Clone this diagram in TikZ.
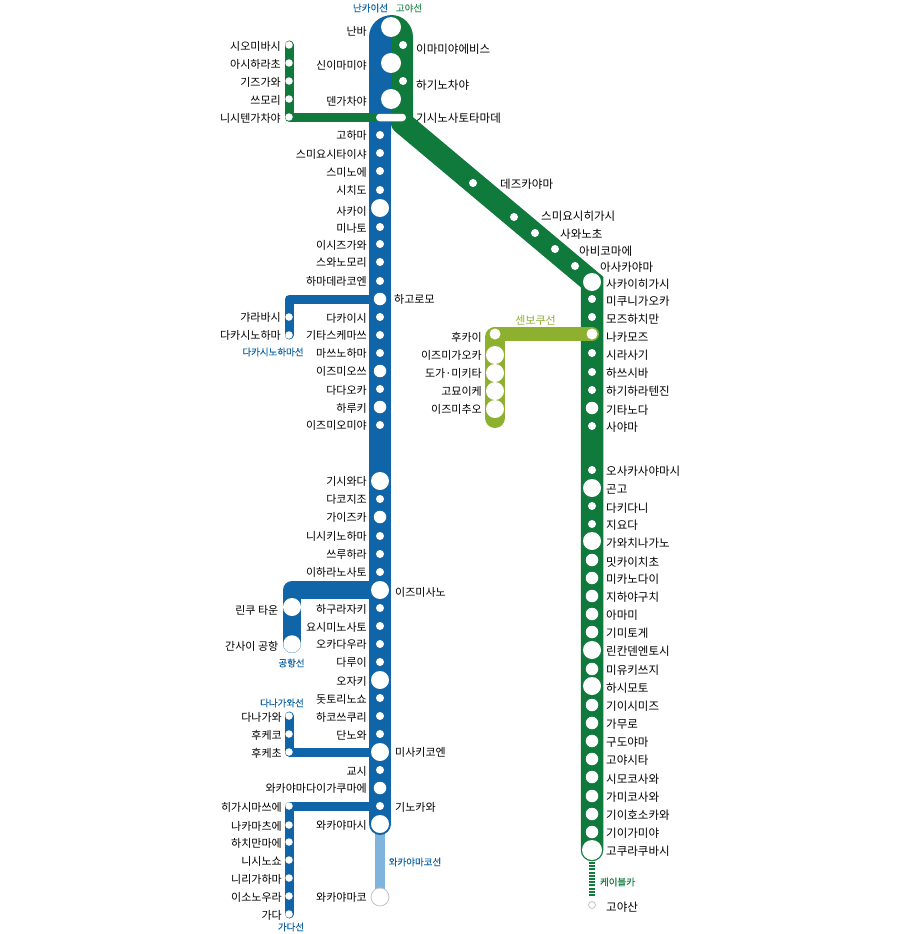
\documentclass[tikz,border=0pt]{standalone}
\usepackage{fontspec}
\setmainfont{Noto Sans CJK KR}
\newfontfamily\namefont[FakeBold=0.25]{Noto Sans CJK KR}
\usetikzlibrary{backgrounds}
\definecolor{nkblue}{HTML}{1065A8}
\definecolor{kygreen}{HTML}{0F7A3C}
\definecolor{skolive}{HTML}{8DB02F}
\definecolor{wklight}{HTML}{7FB5DC}
\definecolor{stnring}{HTML}{C4C4C4}
\tikzstyle{stn}=[circle, fill=white, inner sep=0pt]
\tikzstyle{stnT}=[stn, minimum size=7.5pt]
\tikzstyle{stnS}=[stn, minimum size=8pt]
\tikzstyle{stnM}=[stn, minimum size=12.5pt]
\tikzstyle{stnB}=[stn, minimum size=18pt]
\tikzstyle{stnX}=[stn, minimum size=20pt]
\tikzstyle{lbl}=[inner sep=0pt, yshift=-0.7pt, text=black, font=\fontsize{11}{11}\selectfont]
\tikzstyle{lblE}=[lbl, anchor=east]
\tikzstyle{lblW}=[lbl, anchor=west]
\tikzstyle{lblK}=[lblW, font=\fontsize{11.5}{11.5}\selectfont]
\tikzstyle{linename}=[inner sep=0pt, font=\namefont\fontsize{9.5}{9.5}\selectfont]
\tikzstyle{branch}=[line width=9pt, line cap=round, line join=round]
\begin{document}
\begin{tikzpicture}[x=1pt, y=-1pt]
    \useasboundingbox (0,0) rectangle (900,934);
    \foreach \y/\s/\t in {31/27/난바, 65/63/신이마미야, 101/99/덴가차야} {
        \node[stnX] (nk\s) at (391,\s) {};
        \node[lblE] (nkL\s) at (367,\y) {\t};
    }
    \foreach \y/\ly/\s/\t in {135/135/stnS/고하마, 153/154/stnS/스미요시타이샤, 171/172/stnS/스미노에, 190/190/stnS/시치도,
        208/211/stnB/사카이, 227/228/stnS/미나토, 244/245/stnS/이시즈가와, 262/262/stnS/스와노모리, 281/281/stnS/하마데라코엔,
        317/318/stnS/다카이시, 335/335/stnS/기타스케마쓰, 353/353/stnS/마쓰노하마, 371/371/stnM/이즈미오쓰, 389/390/stnS/다다오카,
        407/408/stnM/하루키, 425/425/stnS/이즈미오미야, 481/481/stnB/기시와다, 499/499/stnS/다코지조, 517/517/stnM/가이즈카,
        536/536/stnS/니시키노하마, 554/554/stnS/쓰루하라, 572/572/stnS/이하라노사토, 608/609/stnS/하구라자키, 626/627/stnS/요시미노사토,
        644/644/stnS/오카다우라, 662/662/stnS/다루이, 680/681/stnB/오자키, 698/699/stnS/돗토리노쇼, 716/717/stnS/하코쓰쿠리,
        734/735/stnS/단노와, 770/771/stnS/교시, 788/788/stnM/와카야마다이가쿠마에, 824/825/stnB/와카야마시} {
        \node[\s] (nk\y) at (380,\y) {};
        \node[lblE] (nkL\y) at (367,\ly) {\t};
    }
    \foreach \y/\ly/\s/\x/\t in {299/299/stnM/394/하고로모, 590/592/stnB/395/이즈미사노, 752/752/stnB/395/미사키코엔, 806/807/stnS/395/기노카와} {
        \node[\s] (nk\y) at (380,\y) {};
        \node[lblW] (nkL\y) at (\x,\ly) {\t};
    }
    \node[stnB, fill=white, draw=stnring, line width=0.8pt] (wk897) at (380,897) {};
    \node[lblE] (wkL897) at (367,897) {와카야마코};

    \foreach \y/\t in {48/이마미야에비스, 84/하기노차야} {
        \node[stnS] (ky\y) at (403,\y-3) {};
        \node[lblK] (kyL\y) at (416,\y) {\t};
    }
    \node[fill=white, inner sep=0pt, minimum width=30pt, minimum height=7.5pt, rounded corners=3.7pt] (kishi) at (391,117.5) {};
    \node[lblK] (kishiL) at (416,117.5) {기시노사토타마데};
    \foreach \x/\y/\t/\lx/\ly in {473/183/데즈카야마/500/183, 514/217/스미요시히가시/541/215, 535/233/사와노초/560/233, 555/249/아비코마에/579/250, 575/266/아사카야마/600/266} {
        \node[stnS] (kyd\x) at (\x,\y) {};
        \node[lblK] (kydL\x) at (\lx,\ly) {\t};
    }
    \foreach \y/\ly/\s/\t in {282/283/stnB/사카이히가시, 299/300/stnS/미쿠니가오카, 317/318/stnS/모즈하치만, 353/354/stnS/시라사기,
        372/372/stnS/하쓰시바, 390/390/stnS/하기하라텐진, 408/409/stnM/기타노다, 426/426/stnS/사야마, 470/470/stnS/오사카사야마시,
        488/489/stnB/곤고, 506/507/stnS/다키다니, 524/524/stnS/지요다, 541/542/stnB/가와치나가노, 560/561/stnM/밋카이치초,
        578/578/stnM/미카노다이, 596/596/stnM/지하야구치, 614/614/stnM/아마미, 632/632/stnM/기미토게, 650/650/stnB/린칸덴엔토시,
        669/669/stnM/미유키쓰지, 686/687/stnB/하시모토, 705/705/stnM/기이시미즈, 723/723/stnM/가무로, 741/741/stnM/구도야마,
        759/759/stnM/고야시타, 777/778/stnM/시모코사와, 796/796/stnM/가미코사와, 814/814/stnM/기이호소카와, 832/832/stnM/기이가미야,
        850/850/stnX/고쿠라쿠바시} {
        \node[\s] (ky\y) at (592,\y) {};
        \node[lblK] (kyL\y) at (606,\ly) {\t};
    }
    \node[stnM, minimum size=11pt] (ky334) at (592,334) {};
    \node[lblK] (kyL334) at (606,336) {나카모즈};
    \node[stn, draw=stnring, line width=0.8pt, minimum size=7pt] (koya) at (592,905) {};
    \node[lblK] (koyaL) at (606,906) {고야산};
    \coordinate (cableTop) at (592,862);
    \coordinate (cableEnd) at (592,897);
    \coordinate (kyStart) at (402,122.6);

    \foreach \y/\t in {45/시오미바시, 63/아시하라초, 81/기즈가와, 99/쓰모리, 117/니시텐가차야} {
        \node[stnT] (nw\y) at (289,\y) {};
        \node[lblE] (nwL\y) at (281,\y+1) {\t};
    }
    \foreach \y/\t in {317/갸라바시, 335/다카시노하마} {
        \node[stnT] (tk\y) at (289,\y) {};
        \node[lblE] (tkL\y) at (281,\y) {\t};
    }
    \foreach \y/\t in {716/다나가와, 734/후케코, 752/후케초} {
        \node[stnT] (tn\y) at (289,\y) {};
        \node[lblE] (tnL\y) at (282,\y+1) {\t};
    }
    \foreach \y/\t in {806/히가시마쓰에, 825/나카마츠에, 842/하치만마에, 860/니시노쇼, 878/니리가하마, 896/이소노우라, 914/가다} {
        \node[stnT] (kd\y) at (289,\y) {};
        \node[lblE] (kdL\y) at (282,\y+1) {\t};
    }
    \node[stnB] (rinku) at (292,607) {};
    \node[lblE] (rinkuL) at (278.5,610) {린쿠 타운};
    \node[stn, minimum size=17.5pt] (kix) at (292,644) {};
    \node[lblE] (kixL) at (278.5,646) {간사이 공항};

    \node[stn, minimum size=11pt] (sk334) at (495,334) {};
    \node[lblE] (skL334) at (482,337) {후카이};
    \foreach \y/\t in {355/이즈미가오카, 373/도가·미키타, 391/고묘이케, 409/이즈미추오} {
        \node[stnB] (sk\y) at (495,\y) {};
        \node[lblE] (skL\y) at (482,\y) {\t};
    }
    \coordinate (skEnd) at (495,418);
    \coordinate (skTop) at (495,337);

    \node[linename, text=nkblue] (nmNankai) at (370.5,8) {난카이선};
    \node[linename, text=kygreen!85] (nmKoya) at (409,8) {고야선};
    \node[linename, text=nkblue] (nmTakashi) at (273,352) {다카시노하마선};
    \node[linename, text=nkblue] (nmKuko) at (291.5,663) {공항선};
    \node[linename, text=nkblue] (nmTana) at (282,703) {다나가와선};
    \node[linename, text=nkblue] (nmKada) at (291,927) {가다선};
    \node[linename, text=nkblue] (nmWaka) at (415,862) {와카야마코선};
    \node[linename, text=skolive, font=\fontsize{11}{11}\selectfont] (nmSen) at (535.5,320) {센보쿠선};
    \node[linename, text=kygreen] (nmCable) at (617.5,882) {케이블카};

    \begin{scope}[on background layer]
        \draw[wklight, line width=9.5pt] (nk824.center) -- (wk897.center);
        \draw[nkblue, line width=22pt, line cap=round] (nk135.center) -- (nk824.center);
        \fill[nkblue] (369,37) .. controls (369,24.85) and (378.85,15) .. (392.5,15) -- (392.5,118) -- (391,122) -- (391,135) -- (369,135) -- cycle;
        \draw[nkblue, branch] (nk299.center) -| (tk335.center);
        \draw[nkblue, branch, line width=18pt] (nk590.center) -| (kix.center);
        \draw[nkblue, branch] (tn716.center) |- (nk752.center);
        \draw[nkblue, branch] (nk806.center) -| (kd914.center);
        \fill[kygreen] (391.5,15) .. controls (403.15,15) and (413,24.85) .. (413,37) -- (413,117.5) -- (391.5,122) -- cycle;
        \draw[kygreen, line width=22.5pt, line cap=round] (kyStart) -- (ky282.center) -- (ky850.center);
        \draw[kygreen, branch] (nw45.center) |- (kishi.west);
        \draw[kygreen, line width=6pt, dash pattern=on 2pt off 1.2pt] (cableTop) -- (cableEnd);
        \draw[skolive, line width=14pt, line cap=round] (sk334.center) -- (ky334.center);
        \draw[skolive, line width=20pt, line cap=round] (skTop) -- (skEnd);
    \end{scope}
\end{tikzpicture}
\end{document}
